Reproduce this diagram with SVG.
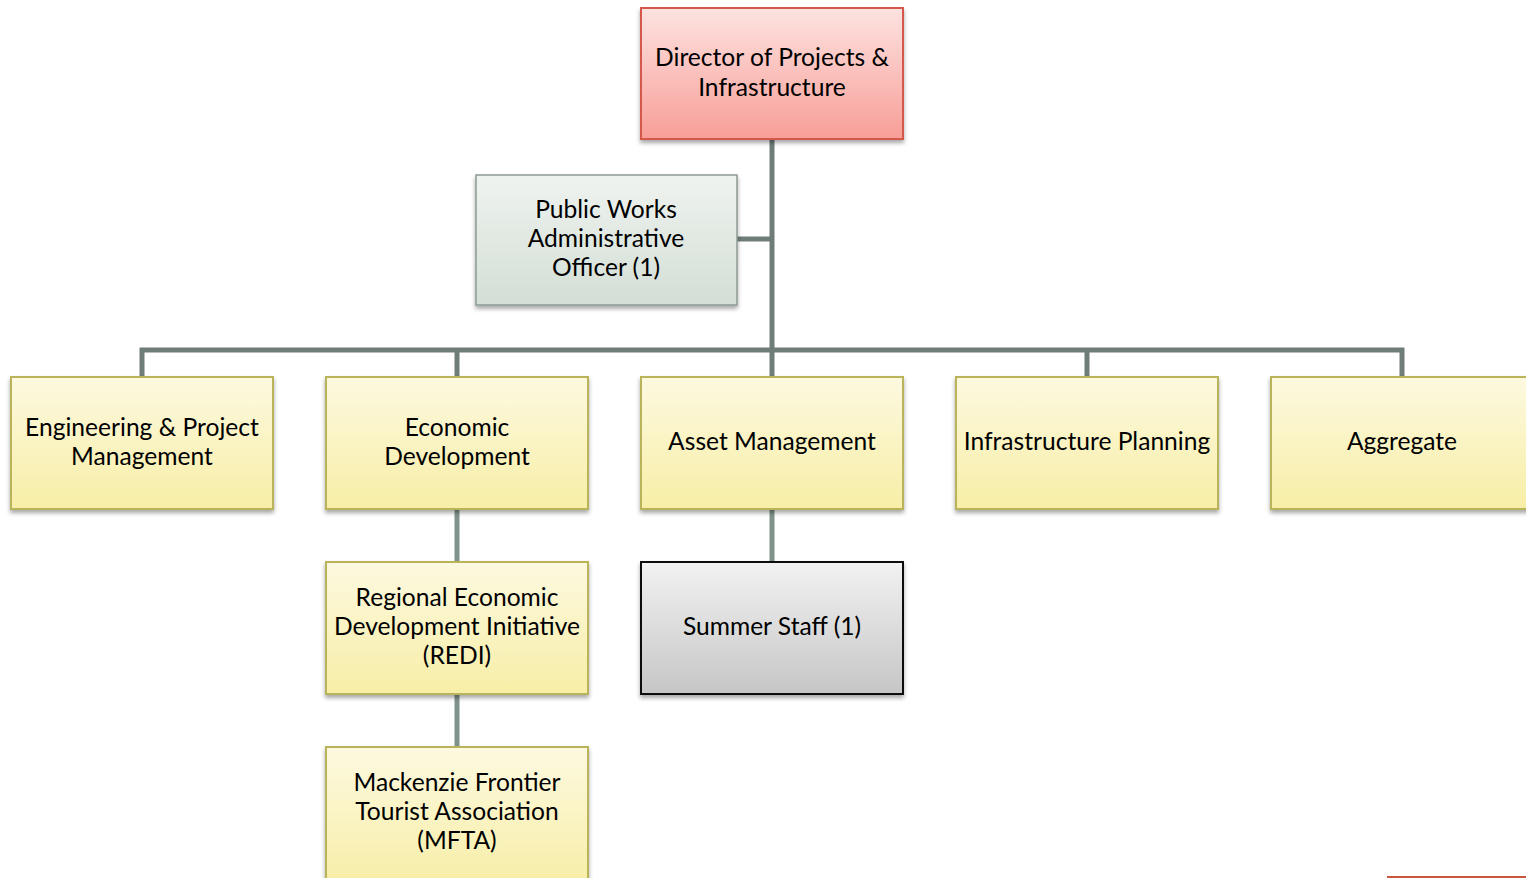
<svg xmlns="http://www.w3.org/2000/svg" width="1526" height="878" viewBox="0 0 1526 878">
<defs>
<linearGradient id="gRed" x1="0" y1="0" x2="0" y2="1"><stop offset="0" stop-color="#fde3e1"/><stop offset="1" stop-color="#f89e97"/></linearGradient>
<linearGradient id="gGreen" x1="0" y1="0" x2="0" y2="1"><stop offset="0" stop-color="#eff3ef"/><stop offset="1" stop-color="#d3ded6"/></linearGradient>
<linearGradient id="gYellow" x1="0" y1="0" x2="0" y2="1"><stop offset="0" stop-color="#fdf9e0"/><stop offset="1" stop-color="#f7eea6"/></linearGradient>
<linearGradient id="gGray" x1="0" y1="0" x2="0" y2="1"><stop offset="0" stop-color="#f2f2f2"/><stop offset="1" stop-color="#c6c6c6"/></linearGradient>
<filter id="sh" x="-10%" y="-10%" width="120%" height="130%"><feDropShadow dx="0" dy="3" stdDeviation="2" flood-color="#000" flood-opacity="0.35"/></filter>
</defs>
<style>
text{font-family:Lato,"Open Sans","Liberation Sans",sans-serif;font-size:24.6px;fill:#000;text-anchor:middle}
.red{fill:url(#gRed);stroke:#d5584e;stroke-width:2}
.grn{fill:url(#gGreen);stroke:#8c9a92;stroke-width:1.5}
.yel{fill:url(#gYellow);stroke:#b9b35a;stroke-width:2}
.gry{fill:url(#gGray);stroke:#111;stroke-width:2}
.c{fill:none;stroke:#6e7d77;stroke-width:5}
.c2{fill:none;stroke:#80938a;stroke-width:5}
</style>
<g id="connectors">
<path class="c" d="M772 139V377M737 239H772M142 377V350H1402V377M457 350V377M1087 350V377"/>
<path class="c2" d="M457 509V562M457 694V747M772 509V562"/>
</g>
<g id="director"><rect class="red" x="641" y="8" width="262" height="131" filter="url(#sh)"/><text x="772" y="66">Director of Projects &amp;</text><text x="772" y="96">Infrastructure</text></g>
<g id="pwao"><rect class="grn" x="476" y="175" width="261" height="130" filter="url(#sh)"/><text x="606" y="218">Public Works</text><text x="606" y="247">Administrative</text><text x="606" y="276">Officer (1)</text></g>
<g id="engineering"><rect class="yel" x="11" y="377" width="262" height="132" filter="url(#sh)"/><text x="142" y="436">Engineering &amp; Project</text><text x="142" y="465">Management</text></g>
<g id="economic"><rect class="yel" x="326" y="377" width="262" height="132" filter="url(#sh)"/><text x="457" y="436">Economic</text><text x="457" y="465">Development</text></g>
<g id="asset"><rect class="yel" x="641" y="377" width="262" height="132" filter="url(#sh)"/><text x="772" y="450">Asset Management</text></g>
<g id="infra"><rect class="yel" x="956" y="377" width="262" height="132" filter="url(#sh)"/><text x="1087" y="450">Infrastructure Planning</text></g>
<g id="aggregate"><rect class="yel" x="1271" y="377" width="262" height="132" filter="url(#sh)"/><text x="1402" y="450">Aggregate</text></g>
<g id="redi"><rect class="yel" x="326" y="562" width="262" height="132" filter="url(#sh)"/><text x="457" y="606">Regional Economic</text><text x="457" y="635">Development Initiative</text><text x="457" y="664">(REDI)</text></g>
<g id="summer"><rect class="gry" x="641" y="562" width="262" height="132" filter="url(#sh)"/><text x="772" y="635">Summer Staff (1)</text></g>
<g id="mfta"><rect class="yel" x="326" y="747" width="262" height="140" filter="url(#sh)"/><text x="457" y="791">Mackenzie Frontier</text><text x="457" y="820">Tourist Association</text><text x="457" y="849">(MFTA)</text></g>
<g id="offpage"><line x1="1387" y1="877" x2="1526" y2="877" stroke="#c8573e" stroke-width="2"/></g>
</svg>
